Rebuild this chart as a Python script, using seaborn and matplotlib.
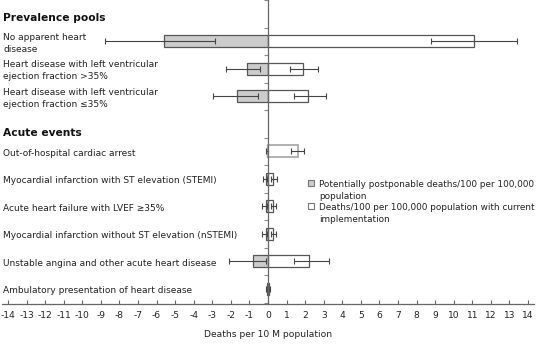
import numpy as np
import pandas as pd
import seaborn as sns
import matplotlib
matplotlib.use("Agg")
import matplotlib.pyplot as plt
from matplotlib.patches import Rectangle
from matplotlib.transforms import blended_transform_factory

# ---- data ----
rows = [
    "Prevalence pools",
    "No apparent heart\ndisease",
    "Heart disease with left ventricular\nejection fraction >35%",
    "Heart disease with left ventricular\nejection fraction \u226435%",
    "Acute events",
    "Out-of-hospital cardiac arrest",
    "Myocardial infarction with ST elevation (STEMI)",
    "Acute heart failure with LVEF \u226535%",
    "Myocardial infarction without ST elevation (nSTEMI)",
    "Unstable angina and other acute heart disease",
    "Ambulatory presentation of heart disease",
]
headings = ["Prevalence pools", "Acute events"]
categories = [r for r in rows if r not in headings]

# potentially postponable deaths (shown to the left, negative)
postponable = [-5.6, -1.13, -1.67, -0.06, -0.1, -0.1, -0.1, -0.83, -0.06]
postponable_lo = [-8.8, -2.26, -2.96, -0.09, -0.25, -0.3, -0.3, -2.12, -0.09]
postponable_hi = [-2.85, -0.43, -0.54, -0.02, -0.04, -0.04, -0.04, -0.1, -0.02]

# deaths with current implementation (shown to the right)
current = [11.1, 1.88, 2.15, 1.62, 0.28, 0.29, 0.29, 2.23, 0.06]
current_lo = [8.8, 1.18, 1.4, 1.24, 0.16, 0.14, 0.14, 1.42, 0.02]
current_hi = [13.4, 2.69, 3.12, 1.94, 0.47, 0.42, 0.45, 3.3, 0.09]

series = ["Potentially postponable deaths/100 per 100,000\npopulation",
          "Deaths/100 per 100,000 population with current\nimplementation"]
colors = ["#cccccc", "#ffffff"]
xticks = list(range(-14, 15))

# ---- build table ----
pos = [rows.index(c) for c in categories]
df = pd.DataFrame({
    "pos": pos * 2,
    "value": postponable + current,
    "series": [series[0]] * len(pos) + [series[1]] * len(pos),
})

sns.set_theme(style="white")
plt.rcParams["font.family"] = ["DejaVu Sans"]

W, H = 541, 344
fig = plt.figure(figsize=(W / 100, H / 100), dpi=100)
ax = fig.add_axes([0.0044, 0.116, 0.982, 0.884])

edge = "#555555"
sns.barplot(data=df, x="value", y="pos", hue="series", orient="h",
            native_scale=True, dodge=False, width=0.44,
            palette=colors, edgecolor=edge, linewidth=0.9,
            errorbar=None, legend=False, ax=ax)

# lighter outline on the out-of-hospital cardiac arrest bar
ohca = rows.index("Out-of-hospital cardiac arrest")
for p in ax.patches:
    y0 = p.get_y() + p.get_height() / 2
    if abs(y0 - ohca) < 0.01 and p.get_width() > 0.5:
        p.set_edgecolor("#aaaaaa")
        p.set_linewidth(1.3)

# error bars
for lo, hi in [(postponable_lo, postponable_hi), (current_lo, current_hi)]:
    l = np.array(lo); h = np.array(hi)
    ax.errorbar((l + h) / 2, pos, xerr=(h - l) / 2, fmt="none", ecolor="#444444",
                elinewidth=0.8, capsize=2.2, capthick=0.8, zorder=5)

ax.set_xlim(-14.3, 14.3)
ax.set_ylim(10.55, -0.5)

# spines
for s in ["top", "right"]:
    ax.spines[s].set_visible(False)
ax.spines["left"].set_position(("data", 0))
ax.spines["left"].set_color("#666666")
ax.spines["left"].set_linewidth(0.9)
ax.spines["left"].set_zorder(6)
ax.spines["bottom"].set_color("#666666")
ax.spines["bottom"].set_linewidth(0.9)

ax.set_yticks([i + 0.5 for i in range(-1, 11)])
ax.set_yticklabels([])
ax.tick_params(axis="y", direction="out", length=3, width=0.8, color="#888888", left=True)
ax.set_xticks(xticks)
ax.set_xticklabels([str(t) for t in xticks], fontsize=6.6, color="#222222")
ax.tick_params(axis="x", direction="in", length=3, width=0.8, color="#666666",
               bottom=True, pad=5)
ax.set_xlabel("Deaths per 10 M population", fontsize=6.6, color="#222222", labelpad=7)
ax.set_ylabel("")

# row labels
tr = blended_transform_factory(fig.transFigure, ax.transData)
heading_offset = {"Prevalence pools": 0.15, "Acute events": 0.33}
for i, r in enumerate(rows):
    if r in headings:
        ax.text(3 / W, i + heading_offset[r], r, transform=tr, fontsize=7.7,
                fontweight="bold", color="#111111", va="center", ha="left")
    else:
        ax.text(3 / W, i + 0.07, r, transform=tr, fontsize=6.5, color="#222222",
                va="center", ha="left", linespacing=1.4)

# legend (square markers aligned with the first line of each entry)
for k, (lab, col) in enumerate(zip(series, colors)):
    lines = lab.split("\n")
    top = 185 + k * 23  # pixel y of first line centre
    fig.patches.append(Rectangle((308 / W, 1 - (top + 1) / H), 6 / W, 6 / H,
                                 transform=fig.transFigure, facecolor=col,
                                 edgecolor="#777777", linewidth=0.8))
    for j, line in enumerate(lines):
        fig.text(319 / W, 1 - (top + j * 11.5) / H, line, fontsize=6.4,
                 color="#222222", va="center", ha="left")

fig.savefig("out.png", dpi=100)
